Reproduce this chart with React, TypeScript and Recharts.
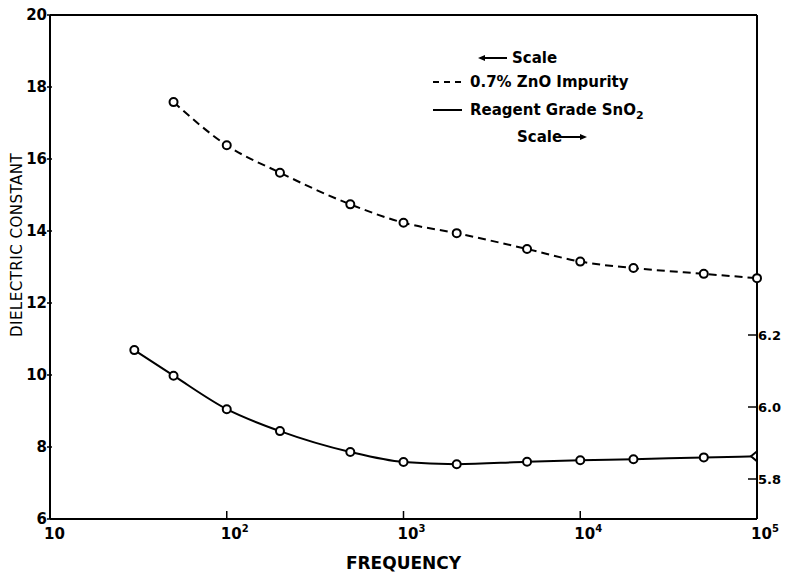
import { Line, LineChart, ReferenceLine, XAxis, YAxis } from "recharts";

// frequency (Hz) of each measured point
const frequencies = [30, 50, 100, 200, 500, 1000, 2000, 5000, 10000, 20000, 50000, 100000];
// 0.7% ZnO impurity, read on the left scale
const znoImpurity = [null, 17.58, 16.38, 15.62, 14.74, 14.23, 13.94, 13.5, 13.15, 12.97, 12.81, 12.69];
// reagent grade SnO2, read on the right scale
const reagentSnO2 = [6.158, 6.087, 5.994, 5.933, 5.875, 5.847, 5.841, 5.848, 5.852, 5.855, 5.86, 5.863];

const xTicks = [10, 100, 1000, 10000, 100000];
const xTickExponents = ["", "2", "3", "4", "5"];
const leftTicks = [6, 8, 10, 12, 14, 16, 18, 20];
const rightTicks = [5.8, 6.0, 6.2];

const data = frequencies.map((f, i) => ({
  f,
  zno: znoImpurity[i],
  sno2: reagentSnO2[i],
}));

const INK = "#000";
const font = "'DejaVu Sans', sans-serif";

function XTick(props: any) {
  const { x, y, payload } = props;
  const i = xTicks.indexOf(payload.value);
  const exp = xTickExponents[i];
  const inner = i > 0 && i < xTicks.length - 1;
  return (
    <g>
      {inner && <line x1={x} x2={x} y1={y - 8} y2={y} stroke={INK} strokeWidth={1.5} />}
      <text x={x - 6} y={y + 20} fontFamily={font} fontWeight="bold" fontSize={15} fill={INK}>
        10
        {exp && (
          <tspan dy={-7} fontSize={10}>
            {exp}
          </tspan>
        )}
      </text>
    </g>
  );
}

function LeftTick(props: any) {
  const { x, y, payload } = props;
  return (
    <g>
      <line x1={x - 3} x2={x + 2} y1={y} y2={y} stroke={INK} strokeWidth={1.5} />
      <text
        x={x - 3}
        y={y}
        textAnchor="end"
        dominantBaseline="central"
        fontFamily={font}
        fontWeight="bold"
        fontSize={15}
        fill={INK}
      >
        {payload.value}
      </text>
    </g>
  );
}

function RightTick(props: any) {
  const { x, y, payload } = props;
  return (
    <g>
      <line x1={x - 9} x2={x + 1} y1={y} y2={y} stroke={INK} strokeWidth={1.5} />
      <text
        x={x + 1}
        y={y}
        dominantBaseline="central"
        fontFamily={font}
        fontWeight="bold"
        fontSize={13}
        fill={INK}
      >
        {Number(payload.value).toFixed(1)}
      </text>
    </g>
  );
}

function CircleDot(props: any) {
  const { cx, cy, value } = props;
  if (value == null || cx == null || cy == null) return <g />;
  return <circle cx={cx} cy={cy} r={4} fill="#fff" stroke={INK} strokeWidth={2} />;
}

function SnO2Dot(props: any) {
  const { cx, cy, index } = props;
  if (cx == null || cy == null) return <g />;
  if (index === frequencies.length - 1) {
    return (
      <path
        d={`M${cx - 6},${cy} L${cx},${cy - 5} L${cx},${cy + 5} Z`}
        fill="#fff"
        stroke={INK}
        strokeWidth={2}
      />
    );
  }
  return <circle cx={cx} cy={cy} r={4} fill="#fff" stroke={INK} strokeWidth={2} />;
}

function YLabel(props: any) {
  const { viewBox } = props;
  const cy = viewBox.y + viewBox.height / 2 - 22;
  return (
    <text
      x={17}
      y={cy}
      transform={`rotate(-90 17 ${cy})`}
      textAnchor="middle"
      dominantBaseline="central"
      fontFamily={font}
      fontSize={15}
      letterSpacing={0.5}
      fill={INK}
    >
      DIELECTRIC CONSTANT
    </text>
  );
}

function LegendNote() {
  const text = { fontFamily: font, fontWeight: "bold" as const, fontSize: 15, fill: INK };
  return (
    <svg
      width={790}
      height={573}
      style={{ position: "absolute", left: 0, top: 0, pointerEvents: "none" }}
    >
      <line x1={481} x2={507} y1={58} y2={58} stroke={INK} strokeWidth={2} />
      <path d="M478,58 L485,55 L485,61 Z" fill={INK} />
      <text x={512} y={58} dominantBaseline="central" {...text}>
        Scale
      </text>

      <line x1={433} x2={463} y1={82} y2={82} stroke={INK} strokeWidth={2} strokeDasharray="6 5" />
      <text x={470} y={82} dominantBaseline="central" {...text}>
        0.7% ZnO Impurity
      </text>

      <line x1={433} x2={462} y1={110} y2={110} stroke={INK} strokeWidth={2} />
      <text x={470} y={110} dominantBaseline="central" {...text}>
        Reagent Grade SnO
        <tspan dy={5} fontSize={11}>
          2
        </tspan>
      </text>

      <text x={517} y={137} dominantBaseline="central" {...text}>
        Scale
      </text>
      <line x1={561} x2={584} y1={137} y2={137} stroke={INK} strokeWidth={2} />
      <path d="M587,137 L580,134 L580,140 Z" fill={INK} />
    </svg>
  );
}

export default function App() {
  return (
    <div
      style={{
        position: "relative",
        margin: "-8px -8px 0 -8px",
        width: 790,
        height: 573,
        background: "#fff",
      }}
    >
      <LineChart
        width={790}
        height={573}
        data={data}
        margin={{ top: 15, right: 0, bottom: 0, left: 0 }}
      >
        <XAxis
          dataKey="f"
          type="number"
          scale="log"
          domain={[10, 100000]}
          ticks={xTicks}
          height={54}
          axisLine={{ stroke: INK, strokeWidth: 2 }}
          tickLine={false}
          tickSize={0}
          tickMargin={0}
          tick={<XTick />}
          interval={0}
          label={{
            value: "FREQUENCY",
            position: "insideBottom",
            offset: 4,
            fill: INK,
            fontFamily: font,
            fontWeight: "bold",
            fontSize: 17,
          }}
        />
        <YAxis
          yAxisId="left"
          domain={[6, 20]}
          ticks={leftTicks}
          width={50}
          axisLine={{ stroke: INK, strokeWidth: 2 }}
          tickLine={false}
          tickSize={0}
          tickMargin={0}
          tick={<LeftTick />}
          interval={0}
          label={<YLabel />}
        />
        <YAxis
          yAxisId="right"
          orientation="right"
          domain={[5.6889, 7.0889]}
          allowDataOverflow
          ticks={rightTicks}
          width={33}
          axisLine={{ stroke: INK, strokeWidth: 2 }}
          tickLine={false}
          tickSize={0}
          tickMargin={0}
          tick={<RightTick />}
          interval={0}
        />
        <ReferenceLine yAxisId="left" y={20} stroke={INK} strokeWidth={2} />
        <Line
          yAxisId="left"
          dataKey="zno"
          type="monotone"
          stroke={INK}
          strokeWidth={2}
          strokeDasharray="8 5"
          dot={<CircleDot />}
          activeDot={false}
          isAnimationActive={false}
        />
        <Line
          yAxisId="right"
          dataKey="sno2"
          type="monotone"
          stroke={INK}
          strokeWidth={2}
          dot={<SnO2Dot />}
          activeDot={false}
          isAnimationActive={false}
        />
      </LineChart>
      <LegendNote />
    </div>
  );
}
